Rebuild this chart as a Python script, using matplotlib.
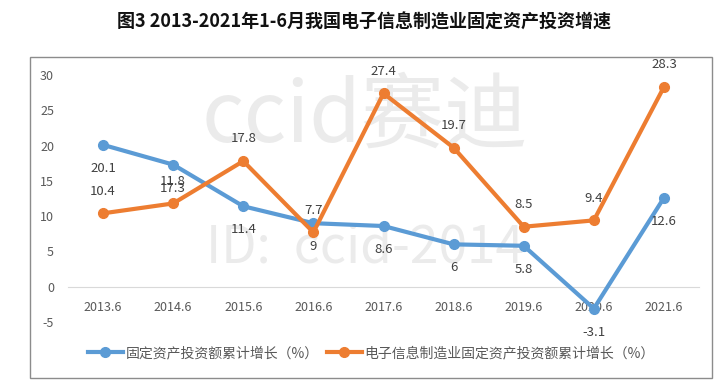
import matplotlib
matplotlib.use('Agg')
import matplotlib.pyplot as plt
from matplotlib.patches import Rectangle

plt.rcParams['font.family'] = ['Noto Sans CJK SC', 'DejaVu Sans']
plt.rcParams['axes.unicode_minus'] = False

categories = ['2013.6', '2014.6', '2015.6', '2016.6', '2017.6',
              '2018.6', '2019.6', '2020.6', '2021.6']
fixed_asset_growth = [20.1, 17.3, 11.4, 9, 8.6, 6, 5.8, -3.1, 12.6]
electronics_growth = [10.4, 11.8, 17.8, 7.7, 27.4, 19.7, 8.5, 9.4, 28.3]
series_names = ['固定资产投资额累计增长（%）', '电子信息制造业固定资产投资额累计增长（%）']
title = '图3 2013-2021年1-6月我国电子信息制造业固定资产投资增速'

BLUE = '#5B9BD5'
ORANGE = '#ED7D31'
TEXT = '#595959'

fig = plt.figure(figsize=(7.28, 3.87), dpi=100)
fig.patch.set_facecolor('white')

# chart frame
fig.patches.append(Rectangle((30 / 728, 1 - 378 / 387), 682 / 728, 321 / 387,
                             transform=fig.transFigure, fill=False,
                             edgecolor='#8C8C8C', linewidth=1.0))

fig.text(0.5, 1 - 22 / 387, title, ha='center', va='center',
         fontsize=13, fontweight='bold', color='#111111')

ax = fig.add_axes([68 / 728, 65 / 387, 631 / 728, 247 / 387])
x = list(range(len(categories)))

# watermark
ax.text(0.47, 0.83, 'ccid赛迪', transform=ax.transAxes, ha='center', va='center',
        fontsize=60, fontweight='light', color='#EBEBEB', zorder=0)
ax.text(0.47, 0.30, 'ID:  ccid-2014', transform=ax.transAxes, ha='center', va='center',
        fontsize=37, fontweight='light', color='#EBEBEB', zorder=0)

ax.plot(x, fixed_asset_growth, color=BLUE, linewidth=3, marker='o', markersize=7,
        label=series_names[0], zorder=3)
ax.plot(x, electronics_growth, color=ORANGE, linewidth=3, marker='o', markersize=7,
        label=series_names[1], zorder=4)

for xi, v in zip(x, fixed_asset_growth):
    ax.annotate(f'{v:g}', (xi, v), xytext=(0, -17), textcoords='offset points',
                ha='center', va='center', fontsize=9.5, color='#404040', zorder=5)
for xi, v in zip(x, electronics_growth):
    ax.annotate(f'{v:g}', (xi, v), xytext=(0, 16), textcoords='offset points',
                ha='center', va='center', fontsize=9.5, color='#404040', zorder=5)

ax.set_xlim(-0.5, len(categories) - 0.5)
ax.set_ylim(-5, 30)
ax.set_yticks(range(-5, 31, 5))
ax.set_xticks(x)
ax.set_xticklabels(categories)

for side in ('top', 'right', 'left'):
    ax.spines[side].set_visible(False)
ax.spines['bottom'].set_position(('data', 0))
ax.spines['bottom'].set_color('#D9D9D9')
ax.spines['bottom'].set_zorder(1)
ax.tick_params(axis='both', length=0, labelsize=9, labelcolor=TEXT)
ax.tick_params(axis='x', pad=10)
ax.tick_params(axis='y', pad=10)
ax.set_facecolor('none')

fig.legend(loc='center', bbox_to_anchor=(0.51, 34 / 387), ncol=2, frameon=False,
           fontsize=10, labelcolor=TEXT, handlelength=2.5, columnspacing=0.6,
           handletextpad=0.2)

fig.savefig('out.png', dpi=100)
